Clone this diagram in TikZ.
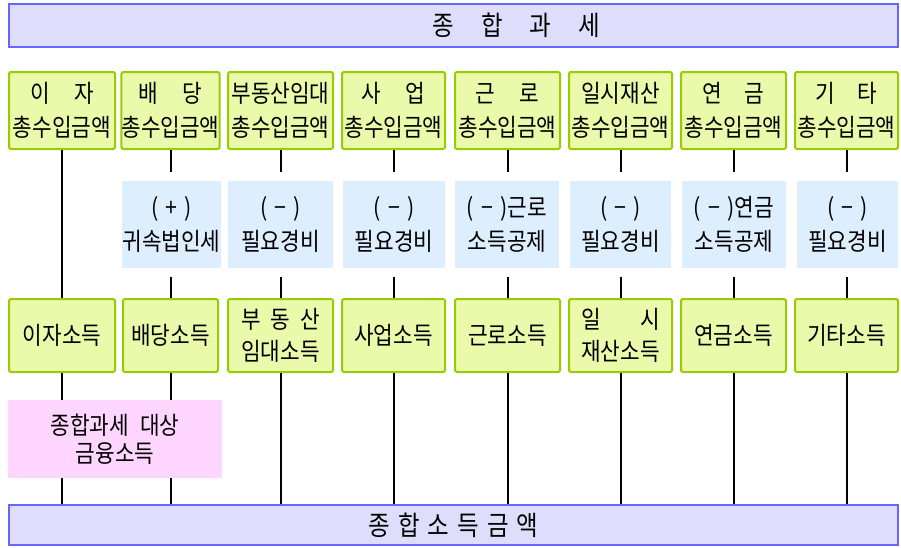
\documentclass[tikz,border=0pt]{standalone}
\usepackage{fontspec}
\usepackage{calc}
\setmainfont{Noto Sans CJK KR}[FakeStretch=0.87]
\definecolor{barfill}{RGB}{222,222,252}
\definecolor{barline}{RGB}{102,102,255}
\definecolor{gfill}{RGB}{234,250,170}
\definecolor{gline}{RGB}{153,204,0}
\definecolor{bfill}{RGB}{221,238,255}
\definecolor{pfill}{RGB}{255,214,255}
\begin{document}
\begin{tikzpicture}[x=1pt,y=-1pt,
  bar/.style={draw=barline, fill=barfill, line width=2pt, minimum width=889pt, inner sep=0pt, font=\fontsize{27}{30}\selectfont},
  gbox/.style={draw=gline, fill=gfill, line width=2pt, rounded corners=2pt, inner sep=0pt, align=center, font=\fontsize{24.5}{34}\selectfont},
  topbox/.style={gbox, minimum height=77pt},
  midbox/.style={gbox, minimum height=73pt},
  bbox/.style={fill=bfill, inner sep=0pt, align=center, minimum height=87pt, font=\fontsize{24.5}{34}\selectfont},
  pbox/.style={fill=pfill, inner sep=0pt, align=center, font=\fontsize{24.5}{28}\selectfont},
  conn/.style={line width=2pt, black}]
\useasboundingbox (0,0) rectangle (901,547);

% bars
\node[bar, minimum height=43pt] (top) at (453.5,25.5) {\hspace*{126pt}종\hspace{27pt}합\hspace{27pt}과\hspace{27pt}세};
\node[bar, minimum height=40pt] (bot) at (453.5,525) {종\hspace{0.3em}합\hspace{0.3em}소\hspace{0.3em}득\hspace{0.3em}금\hspace{0.3em}액};

% top boxes
\node[topbox, minimum width=106pt] (t1) at (62,110.5) {이\hspace{1em}자\\총수입금액};
\node[topbox, minimum width=95pt] (t2) at (170.5,110.5) {배\hspace{1em}당\\총수입금액};
\node[topbox, minimum width=105pt] (t3) at (280.5,110.5) {부동산임대\\총수입금액};
\node[topbox, minimum width=103pt] (t4) at (393.5,110.5) {사\hspace{1em}업\\총수입금액};
\node[topbox, minimum width=105pt] (t5) at (507.5,110.5) {근\hspace{1em}로\\총수입금액};
\node[topbox, minimum width=103pt] (t6) at (620.5,110.5) {일시재산\\총수입금액};
\node[topbox, minimum width=105pt] (t7) at (733.5,110.5) {연\hspace{0.9em}금\\총수입금액};
\node[topbox, minimum width=103pt] (t8) at (846.5,110.5) {기\hspace{0.9em}타\\총수입금액};

% deduction boxes
\node[bbox, minimum width=93pt] (b2) at (171.5,224.5) {(\hspace{0.3em}+\hspace{0.3em})\\귀속법인세};
\node[bbox, minimum width=105pt] (b3) at (280.5,224.5) {(\hspace{0.3em}−\hspace{0.3em})\\필요경비};
\node[bbox, minimum width=102pt] (b4) at (394,224.5) {(\hspace{0.3em}−\hspace{0.3em})\\필요경비};
\node[bbox, minimum width=104pt] (b5) at (507,224.5) {(\hspace{0.3em}−\hspace{0.3em})근로\\소득공제};
\node[bbox, minimum width=101pt] (b6) at (620.5,224.5) {(\hspace{0.3em}−\hspace{0.3em})\\필요경비};
\node[bbox, minimum width=104pt] (b7) at (734,224.5) {(\hspace{0.3em}−\hspace{0.3em})연금\\소득공제};
\node[bbox, minimum width=101pt] (b8) at (847.5,224.5) {(\hspace{0.3em}−\hspace{0.3em})\\필요경비};

% income boxes
\node[midbox, minimum width=106pt] (m1) at (62,335.5) {이자소득};
\node[midbox, minimum width=95pt] (m2) at (170.5,335.5) {배당소득};
\node[midbox, minimum width=105pt, font=\fontsize{24.5}{32}\selectfont] (m3) at (280.5,335.5) {\makebox[\widthof{임대소득}]{부\hfill 동\hfill 산}\\임대소득};
\node[midbox, minimum width=103pt] (m4) at (393.5,335.5) {사업소득};
\node[midbox, minimum width=105pt] (m5) at (507.5,335.5) {근로소득};
\node[midbox, minimum width=103pt, font=\fontsize{24.5}{32}\selectfont] (m6) at (620.5,335.5) {\makebox[\widthof{재산소득}]{일\hfill 시}\\재산소득};
\node[midbox, minimum width=105pt] (m7) at (733.5,335.5) {연금소득};
\node[midbox, minimum width=103pt] (m8) at (846.5,335.5) {기타소득};

% connectors
\draw[conn] (t1.south) -- (m1.north);
\foreach \i in {2,...,8} {
  \draw[conn, shorten >=9pt] (t\i.south) -- (t\i.south |- b\i.north);
  \draw[conn, shorten <=9pt] (m\i.north |- b\i.south) -- (m\i.north);
}
\foreach \i in {1,...,8} {
  \draw[conn] (m\i.south) -- (m\i.south |- bot.north);
}

% financial income box (drawn over the lines)
\node[pbox, minimum width=214pt, minimum height=78pt] (fin) at (115,439) {종합과세\hspace{0.45em}대상\\금융소득};
\end{tikzpicture}
\end{document}
